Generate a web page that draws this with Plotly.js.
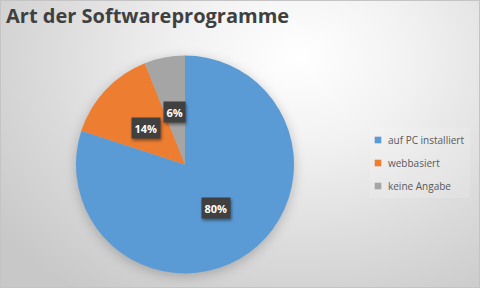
<!DOCTYPE html>
<html><head><meta charset="utf-8">
<script src="https://cdn.plot.ly/plotly-3.0.1.min.js"></script>
<style>
html,body{margin:0;padding:0;}
#chart{width:480px;height:288px;box-sizing:border-box;
background: radial-gradient(ellipse 78% 100% at 62% 20%, #ffffff 0%, #f2f2f2 30%, #dcdcdc 65%, #c8c8c8 100%);
outline:1px solid #c4c4c4; outline-offset:-1px;}
.pielayer{filter: drop-shadow(0px 3px 6px rgba(0,0,0,0.22));}
.annotation rect.bg{filter: drop-shadow(1px 2px 1.5px rgba(0,0,0,0.45));}
.legend .legendpie{transform: translate(30px,0px) scale(0.55);}
.legend .groups .traces:nth-child(1){transform: translate(0px,9px);}
.legend .groups .traces:nth-child(2){transform: translate(0px,32px);}
.legend .groups .traces:nth-child(3){transform: translate(0px,55px);}
</style>
</head><body>
<div id="chart"></div>
<script>
const categories = ["auf PC installiert", "webbasiert", "keine Angabe"];
const values = [80, 14, 6];
const colors = ["#5B9BD5", "#ED7D31", "#A5A5A5"];
const title = "Art der Softwareprogramme";

const W = 480, H = 288;
const dom = {x: [76/W, 294/W], y: [14.5/H, 232.5/H]};
const cx = (dom.x[0] + dom.x[1]) / 2, cy = (dom.y[0] + dom.y[1]) / 2;
const rPx = (dom.x[1] - dom.x[0]) * W / 2;
const total = values.reduce((a, b) => a + b, 0);
let cum = 0;
const annotations = values.map((v, i) => {
  const mid = (cum + v / 2) / total * 2 * Math.PI;
  cum += v;
  const d = 0.49 * rPx;
  return {
    xref: "paper", yref: "paper",
    x: cx + Math.sin(mid) * d / W,
    y: cy + Math.cos(mid) * d / H,
    xanchor: "center", yanchor: "middle",
    text: "<b>" + Math.round(v / total * 100) + "%</b>",
    showarrow: false,
    bgcolor: "#404040",
    borderpad: 2.5,
    font: {color: "#ffffff", size: 11, family: "'Open Sans', sans-serif"}
  };
});

const data = [{
  type: "pie",
  labels: categories,
  values: values,
  sort: false,
  direction: "clockwise",
  rotation: 0,
  marker: {colors: colors, line: {width: 0}},
  textinfo: "none",
  hoverinfo: "label+percent",
  domain: dom
}];

const layout = {
  width: W, height: H,
  margin: {l: 0, r: 0, t: 0, b: 0},
  paper_bgcolor: "rgba(0,0,0,0)",
  plot_bgcolor: "rgba(0,0,0,0)",
  title: {text: "<b>" + title + "</b>", x: 0.0125, xanchor: "left", y: 0.944, yanchor: "middle",
          font: {size: 20, color: "#404040", family: "'Open Sans', sans-serif"}},
  showlegend: true,
  legend: {x: 348 / W, y: 1 - 131 / H, xanchor: "left", yanchor: "top",
           font: {size: 10, color: "#595959", family: "'Open Sans', sans-serif"},
           bgcolor: "rgba(0,0,0,0)"},
  shapes: [{type: "rect", xref: "paper", yref: "paper",
            x0: 370 / W, x1: 470 / W, y0: 1 - 198 / H, y1: 1 - 128 / H,
            fillcolor: "rgba(255,255,255,0.14)", line: {width: 0}, layer: "below"}],
  annotations: annotations
};
Plotly.newPlot("chart", data, layout, {displayModeBar: false, staticPlot: true});
</script>
</body></html>
